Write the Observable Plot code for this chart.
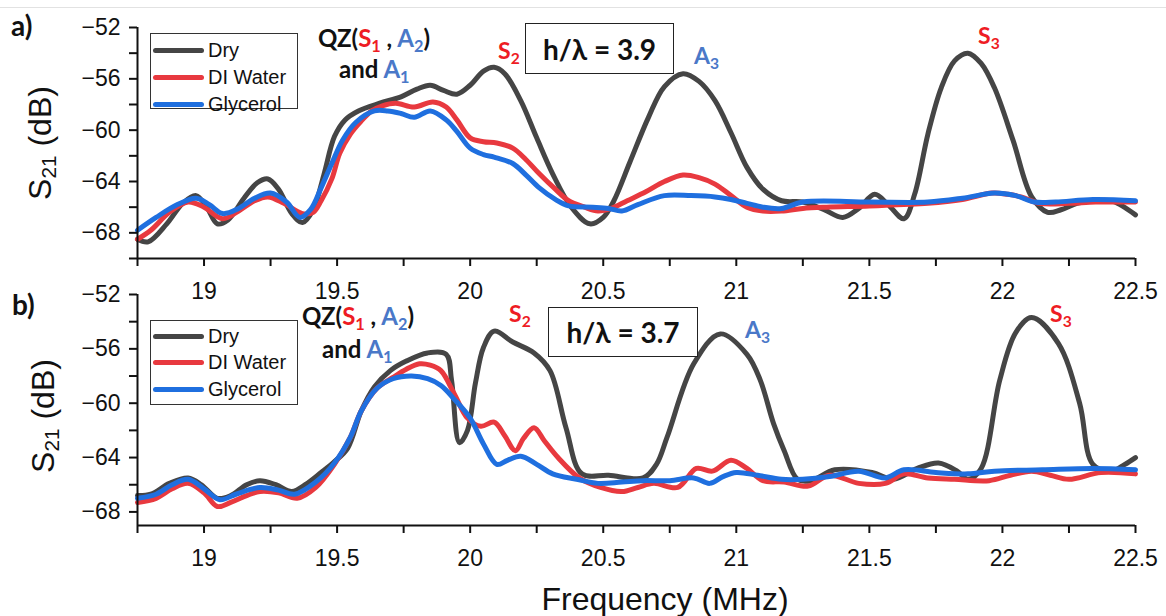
<!DOCTYPE html>
<html><head><meta charset="utf-8">
<script src="https://cdn.jsdelivr.net/npm/d3@7"></script>
<script src="https://cdn.jsdelivr.net/npm/@observablehq/plot@0.6"></script>
<style>
body{margin:0;background:#fff;}
#wrap{position:relative;width:1166px;height:616px;overflow:hidden;font-family:"Liberation Sans",Arial,sans-serif;color:#111;}
.panel{position:absolute;left:0;}
.ann{position:absolute;font-family:Lato,"Open Sans",sans-serif;font-weight:700;white-space:nowrap;line-height:1;color:#111;}
.ann sub{font-size:0.68em;vertical-align:-0.3em;line-height:0;}
.r{color:#ee1c24;} .b{color:#4a78c8;}
.box{position:absolute;border:1.5px solid #222;background:#fff;display:flex;align-items:center;justify-content:center;font-family:Lato,"Open Sans",sans-serif;font-weight:700;color:#111;box-sizing:border-box;}
.legend{position:absolute;border:1px solid #333;background:#fff;box-sizing:border-box;}
.legend .row{position:absolute;left:2px;height:20px;display:flex;align-items:center;font-size:20px;}
.legend .sw{display:inline-block;width:51px;height:5px;border-radius:3px;margin-right:4px;}
.ylab{position:absolute;font-size:32px;white-space:nowrap;transform:translate(-50%,-50%) rotate(-90deg);line-height:1;}
.ylab sub{font-size:0.65em;vertical-align:-0.25em;line-height:0;}
.plab{position:absolute;font-family:Lato,"Open Sans",sans-serif;font-weight:700;font-size:28px;line-height:1;}
</style></head>
<body>
<div id="wrap">
  <div style="position:absolute;left:0;top:7px;width:1166px;height:1px;background:#e2e2e2"></div>
</div>
<script>
// ---- series names & colours
const seriesNames = ["Dry", "DI Water", "Glycerol"];
const seriesColors = ["#454545", "#e8393f", "#1f6fdf"];

// ---- axis ticks
const xMajor = [19, 19.5, 20, 20.5, 21, 21.5, 22, 22.5];
const xMinor = [18.75, 19.25, 19.75, 20.25, 20.75, 21.25, 21.75, 22.25];
const yMajor = [-52, -56, -60, -64, -68];
const yMinorA = [-54, -58, -62, -66, -70];
const yMinorB = [-54, -58, -62, -66];

// ---- panel a) h/λ = 3.9
const aDryF = [18.75,18.79,18.86,18.92,18.97,19.01,19.05,19.09,19.15,19.20,19.24,19.28,19.33,19.37,19.41,19.45,19.49,19.53,19.58,19.66,19.74,19.80,19.85,19.90,19.95,20.00,20.05,20.09,20.13,20.19,20.25,20.31,20.38,20.45,20.50,20.54,20.60,20.67,20.73,20.80,20.86,20.92,20.98,21.04,21.10,21.17,21.25,21.33,21.40,21.46,21.52,21.57,21.63,21.67,21.72,21.77,21.82,21.87,21.92,21.97,22.04,22.11,22.17,22.22,22.28,22.34,22.41,22.45,22.50];
const aDryV = [-68.5,-68.7,-67.3,-65.7,-65.1,-66.0,-67.3,-67.0,-65.3,-64.1,-63.8,-64.6,-66.5,-67.2,-66.2,-63.5,-60.5,-59.2,-58.5,-57.9,-57.4,-56.8,-56.5,-56.9,-57.2,-56.5,-55.4,-55.1,-55.6,-57.7,-60.6,-63.4,-66.0,-67.3,-66.8,-65.5,-62.5,-59.0,-56.6,-55.6,-56.2,-57.7,-60.2,-62.9,-64.6,-65.5,-65.6,-66.2,-66.8,-66.1,-65.0,-65.8,-66.9,-65.0,-60.3,-56.7,-54.6,-54.0,-54.8,-56.7,-60.8,-65.2,-66.4,-66.2,-65.7,-65.5,-65.5,-65.9,-66.6];
const aWatF = [18.75,18.80,18.87,18.94,19.00,19.07,19.13,19.19,19.24,19.30,19.37,19.41,19.44,19.48,19.51,19.55,19.59,19.63,19.67,19.72,19.79,19.86,19.91,19.95,20.00,20.05,20.10,20.16,20.21,20.26,20.32,20.37,20.43,20.48,20.53,20.59,20.66,20.73,20.80,20.86,20.92,20.98,21.04,21.10,21.17,21.25,21.34,21.50,21.72,21.85,21.96,22.02,22.07,22.14,22.25,22.35,22.50];
const aWatV = [-68.5,-67.8,-66.4,-65.6,-66.0,-66.9,-66.3,-65.5,-65.2,-65.7,-66.5,-66.4,-65.5,-63.8,-61.8,-60.3,-59.3,-58.5,-58.1,-57.9,-58.2,-57.8,-58.2,-59.2,-60.6,-60.9,-61.0,-61.4,-62.3,-63.4,-64.6,-65.5,-66.0,-66.3,-66.1,-65.5,-64.8,-64.0,-63.5,-63.7,-64.2,-65.1,-66.0,-66.3,-66.3,-66.1,-66.0,-65.9,-65.7,-65.4,-64.9,-65.0,-65.2,-65.7,-65.7,-65.6,-65.6];
const aGlyF = [18.75,18.82,18.90,18.97,19.02,19.07,19.13,19.19,19.25,19.31,19.36,19.40,19.44,19.48,19.52,19.57,19.64,19.69,19.74,19.79,19.85,19.91,19.95,20.00,20.05,20.09,20.16,20.21,20.26,20.32,20.37,20.46,20.52,20.57,20.63,20.73,20.83,20.92,20.98,21.04,21.10,21.17,21.25,21.50,21.72,21.85,21.97,22.05,22.12,22.20,22.34,22.50];
const aGlyV = [-67.8,-66.8,-65.8,-65.3,-65.8,-66.5,-66.1,-65.3,-64.9,-65.6,-66.8,-66.2,-64.5,-62.6,-60.8,-59.4,-58.5,-58.5,-58.7,-59.0,-58.5,-59.2,-60.1,-61.4,-61.9,-62.1,-62.6,-63.5,-64.5,-65.4,-65.9,-66.0,-66.1,-66.3,-65.8,-65.1,-65.1,-65.2,-65.4,-65.7,-66.0,-66.1,-65.6,-65.6,-65.6,-65.3,-64.9,-65.1,-65.6,-65.6,-65.4,-65.5];

// ---- panel b) h/λ = 3.7
const bDryF = [18.75,18.80,18.87,18.94,18.99,19.05,19.10,19.16,19.21,19.27,19.33,19.38,19.44,19.49,19.54,19.59,19.64,19.70,19.76,19.84,19.91,19.93,19.96,19.99,20.02,20.05,20.09,20.16,20.24,20.30,20.36,20.42,20.52,20.65,20.70,20.74,20.84,20.94,21.04,21.09,21.14,21.18,21.23,21.28,21.37,21.51,21.59,21.68,21.76,21.83,21.87,21.92,21.99,22.05,22.11,22.21,22.29,22.34,22.41,22.46,22.50];
const bDryV = [-66.8,-66.7,-65.9,-65.5,-66.0,-67.0,-66.8,-66.0,-65.7,-66.0,-66.5,-66.0,-65.1,-64.3,-63.3,-60.6,-58.8,-57.6,-56.9,-56.3,-56.4,-58.3,-62.9,-62.0,-58.5,-55.9,-54.7,-55.5,-56.3,-57.6,-61.8,-65.2,-65.3,-65.5,-64.5,-62.5,-57.1,-54.9,-56.4,-58.3,-61.5,-63.5,-65.6,-65.7,-64.9,-65.1,-65.6,-64.8,-64.4,-65.0,-65.6,-64.8,-58.3,-54.8,-53.7,-55.6,-60.0,-64.5,-65.0,-64.5,-64.0];
const bWatF = [18.75,18.82,18.88,18.94,19.00,19.05,19.10,19.16,19.21,19.28,19.35,19.42,19.49,19.55,19.59,19.65,19.71,19.76,19.81,19.85,19.89,19.94,19.99,20.04,20.09,20.13,20.17,20.20,20.24,20.28,20.33,20.41,20.49,20.57,20.63,20.69,20.78,20.85,20.91,20.98,21.04,21.10,21.18,21.27,21.35,21.46,21.56,21.63,21.72,21.82,21.95,22.03,22.11,22.18,22.25,22.37,22.50];
const bWatV = [-67.3,-67.0,-66.3,-65.9,-66.6,-67.6,-67.3,-66.8,-66.5,-66.6,-67.0,-66.2,-64.5,-62.5,-60.6,-58.9,-58.1,-57.5,-57.1,-57.2,-57.6,-59.3,-61.1,-61.7,-61.4,-62.4,-63.5,-62.6,-61.8,-62.8,-64.0,-65.5,-66.2,-66.5,-66.2,-65.9,-66.2,-64.8,-65.0,-64.2,-64.8,-65.7,-65.8,-66.1,-65.3,-65.9,-65.9,-65.2,-65.5,-65.6,-65.7,-65.3,-65.0,-65.3,-65.6,-65.1,-65.2];
const bGlyF = [18.75,18.82,18.88,18.94,19.00,19.06,19.12,19.21,19.28,19.34,19.42,19.49,19.55,19.59,19.65,19.71,19.78,19.84,19.89,19.94,20.00,20.05,20.10,20.14,20.19,20.25,20.31,20.40,20.48,20.57,20.65,20.75,20.84,20.90,20.95,21.00,21.08,21.17,21.25,21.35,21.46,21.56,21.63,21.75,21.87,21.97,22.15,22.34,22.50];
const bGlyV = [-67.0,-66.7,-66.0,-65.6,-66.3,-67.1,-66.7,-66.2,-66.4,-66.7,-65.8,-64.4,-62.5,-60.6,-58.9,-58.2,-58.0,-58.2,-58.7,-59.7,-61.1,-63.0,-64.5,-64.2,-63.9,-64.5,-65.2,-65.6,-65.9,-65.8,-65.7,-65.7,-65.5,-65.9,-65.4,-65.1,-65.3,-65.6,-65.6,-65.4,-65.0,-65.5,-64.9,-65.1,-65.2,-65.0,-64.9,-64.8,-64.9];

function rows(list) {
  return list.flatMap(([name, F, V]) => F.map((f, i) => ({s: name, f, v: V[i]})));
}
const dataA = rows([["Dry", aDryF, aDryV], ["DI Water", aWatF, aWatV], ["Glycerol", aGlyF, aGlyV]]);
const dataB = rows([["Dry", bDryF, bDryV], ["DI Water", bWatF, bWatV], ["Glycerol", bGlyF, bGlyV]]);

function panel(data, yMin, yMinor) {
  return Plot.plot({
    width: 1166, height: 300,
    marginLeft: 137, marginRight: 31, marginTop: 27, marginBottom: 42,
    x: {domain: [18.75, 22.5]},
    y: {domain: [yMin, -52]},
    color: {domain: seriesNames, range: seriesColors},
    style: {background: "transparent", overflow: "visible", fontFamily: "Liberation Sans, Arial, sans-serif", color: "#111"},
    marks: [
      Plot.line(data, {x: "f", y: "v", z: "s", stroke: "s", strokeWidth: 5, curve: "catmull-rom", strokeLinejoin: "round", strokeLinecap: "round"}),
      Plot.axisY(yMajor, {tickSize: 8, tickPadding: 9, fontSize: 23, label: null, strokeWidth: 2}),
      Plot.axisY(yMinor, {tickSize: 8, tickFormat: () => "", label: null, strokeWidth: 2}),
      Plot.axisX(xMajor, {tickSize: 8, tickPadding: 16, fontSize: 23, label: null, strokeWidth: 2, tickFormat: d => String(d)}),
      Plot.axisX(xMinor, {tickSize: 8, tickFormat: () => "", label: null, strokeWidth: 2}),
      Plot.ruleX([18.75], {strokeWidth: 2}),
      Plot.ruleY([yMin], {strokeWidth: 2})
    ]
  });
}

const wrap = document.getElementById("wrap");
const pA = panel(dataA, -70, yMinorA);
pA.classList.add("panel"); pA.style.top = "0px";
const pB = panel(dataB, -69, yMinorB);
pB.classList.add("panel"); pB.style.top = "267px";
wrap.appendChild(pA);
wrap.appendChild(pB);

function add(html) { wrap.insertAdjacentHTML("beforeend", html); }
function legend(left, top, h, rowCenters) {
  let s = `<div class="legend" style="left:${left}px;top:${top}px;width:148px;height:${h}px">`;
  seriesNames.forEach((n, i) => {
    s += `<div class="row" style="top:${rowCenters[i] - 10}px"><span class="sw" style="background:${seriesColors[i]}"></span>${n}</div>`;
  });
  return s + "</div>";
}

// panel labels, y labels
add(`<div class="plab" style="left:11px;top:11px">a)</div>`);
add(`<div class="plab" style="left:12px;top:290px">b)</div>`);
add(`<div class="ylab" style="left:40px;top:143px">S<sub>21</sub> (dB)</div>`);
add(`<div class="ylab" style="left:43px;top:416px">S<sub>21</sub> (dB)</div>`);
add(`<div style="position:absolute;left:665px;top:599px;transform:translate(-50%,-50%);font-size:32px;white-space:nowrap;line-height:1">Frequency (MHz)</div>`);

// legends
add(legend(150, 33, 76, [16, 43, 70]));
add(legend(150, 320, 85, [15, 41, 68]));

// annotations panel a
add(`<div class="ann" style="left:318px;top:26px;font-size:24px">QZ(<span class="r">S<sub>1</sub></span> , <span class="b">A<sub>2</sub></span>)</div>`);
add(`<div class="ann" style="left:339px;top:57px;font-size:24px">and <span class="b">A<sub>1</sub></span></div>`);
add(`<div class="ann r" style="left:498px;top:39px;font-size:23px">S<sub>2</sub></div>`);
add(`<div class="box" style="left:525px;top:23px;width:149px;height:51px;font-size:28px">h/λ = 3.9</div>`);
add(`<div class="ann b" style="left:694px;top:44px;font-size:23px">A<sub>3</sub></div>`);
add(`<div class="ann r" style="left:978px;top:24px;font-size:23px">S<sub>3</sub></div>`);

// annotations panel b
add(`<div class="ann" style="left:302px;top:304px;font-size:24px">QZ(<span class="r">S<sub>1</sub></span> , <span class="b">A<sub>2</sub></span>)</div>`);
add(`<div class="ann" style="left:322px;top:337px;font-size:24px">and <span class="b">A<sub>1</sub></span></div>`);
add(`<div class="ann r" style="left:509px;top:302px;font-size:23px">S<sub>2</sub></div>`);
add(`<div class="box" style="left:548px;top:307px;width:150px;height:50px;font-size:28px">h/λ = 3.7</div>`);
add(`<div class="ann b" style="left:745px;top:318px;font-size:23px">A<sub>3</sub></div>`);
add(`<div class="ann r" style="left:1050px;top:302px;font-size:23px">S<sub>3</sub></div>`);
</script>
</body></html>
